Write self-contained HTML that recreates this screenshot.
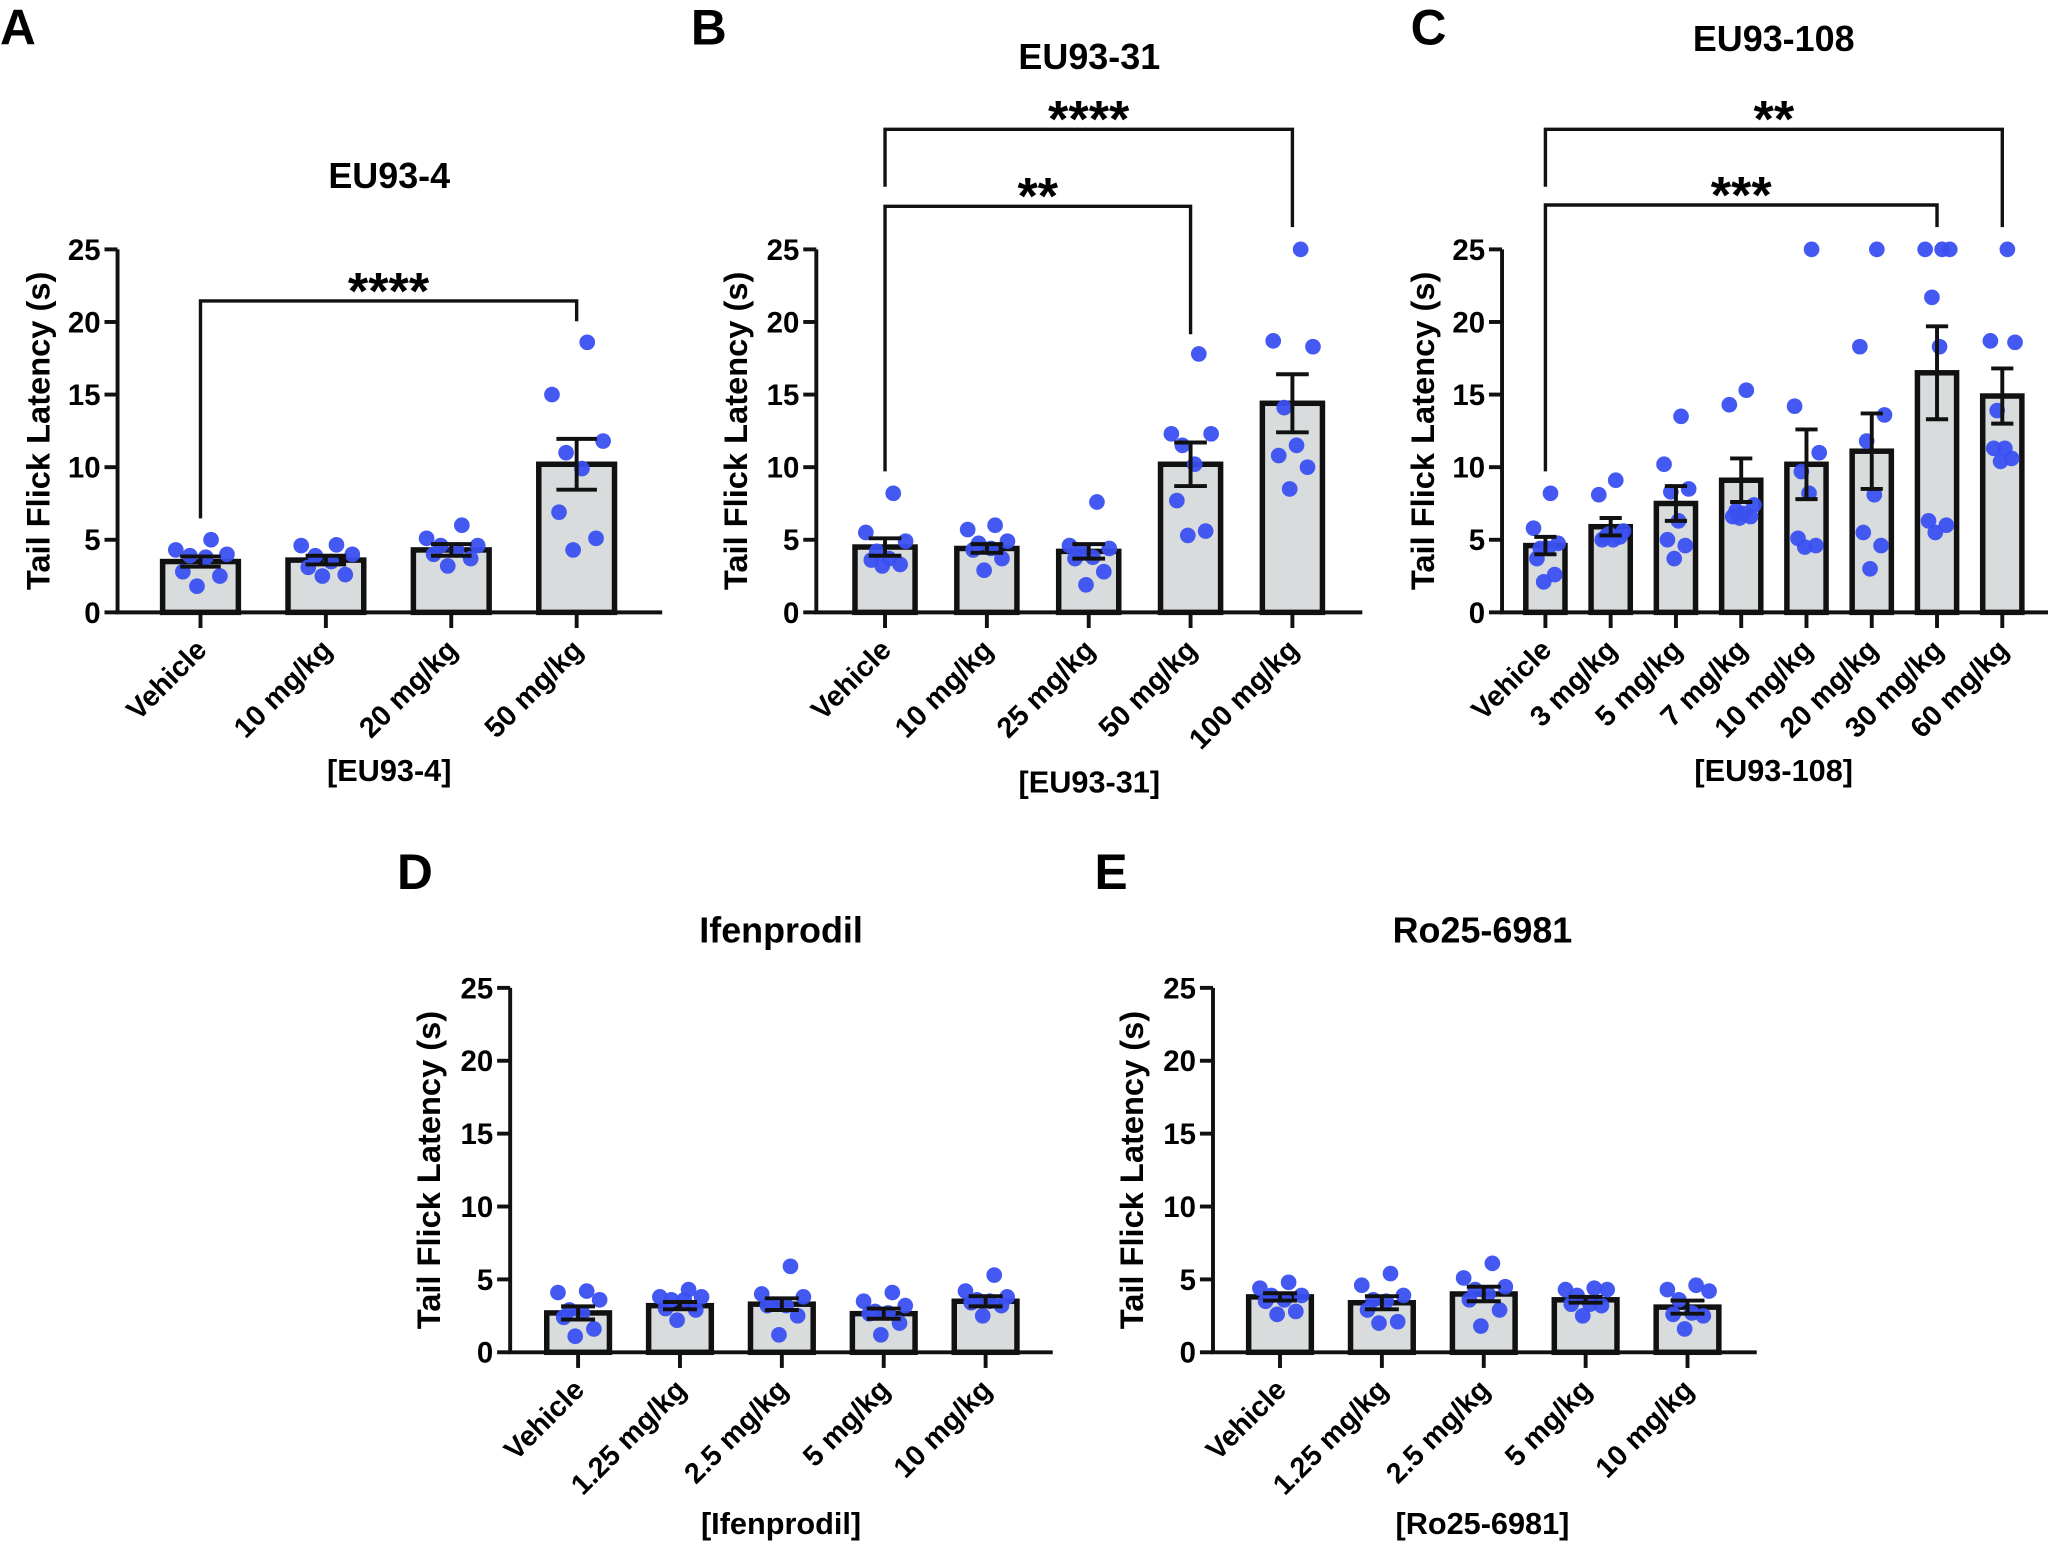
<!DOCTYPE html>
<html><head><meta charset="utf-8"><style>
html,body{margin:0;padding:0;background:#fff;}
svg{display:block;font-family:"Liberation Sans",Arial,sans-serif;font-weight:bold;}
</style></head><body>
<svg id="fig" xmlns="http://www.w3.org/2000/svg" width="2048" height="1542" viewBox="0 0 1568 1181" preserveAspectRatio="none"></svg>
<script>
// ---- data ----
const catsA = ["Vehicle","10 mg/kg","20 mg/kg","50 mg/kg"];
const meanA = [3.5,3.6,4.3,10.2];
const semA = [0.35,0.3,0.4,1.75];
const ptsA = [[5.0,4.3,4.0,3.9,3.8,2.8,2.5,1.8],[4.65,4.6,4.0,3.9,3.5,3.1,2.6,2.5],[6.0,5.1,4.6,4.6,4.3,4.0,3.7,3.2],[18.6,15.0,11.8,11.0,9.9,6.9,5.1,4.3]];
const catsB = ["Vehicle","10 mg/kg","25 mg/kg","50 mg/kg","100 mg/kg"];
const meanB = [4.5,4.4,4.2,10.2,14.4];
const semB = [0.6,0.3,0.5,1.5,2.0];
const ptsB = [[8.2,5.5,4.9,4.2,3.7,3.6,3.3,3.2],[6.0,5.7,4.9,4.75,4.4,4.3,3.7,2.9],[7.6,4.6,4.4,4.2,3.8,3.7,2.8,1.9],[17.8,12.3,12.3,11.5,10.2,7.7,5.6,5.3],[25,18.7,18.3,14.1,11.5,10.8,10.0,8.5]];
const catsC = ["Vehicle","3 mg/kg","5 mg/kg","7 mg/kg","10 mg/kg","20 mg/kg","30 mg/kg","60 mg/kg"];
const meanC = [4.6,5.9,7.5,9.1,10.2,11.1,16.5,14.9];
const semC = [0.6,0.6,1.2,1.5,2.4,2.6,3.2,1.9];
const ptsC = [[8.2,5.8,4.75,4.4,4.4,3.7,2.6,2.1],[9.1,8.1,5.6,5.2,5.0,5.0,5.2,5.4],[13.5,10.2,8.5,8.3,6.3,5.0,4.6,3.7],[15.3,14.3,7.4,7.0,6.8,6.6,6.6,6.5],[25,14.2,11,9.7,8.2,5.1,4.6,4.5],[25,18.3,13.6,11.8,8.1,5.5,4.6,3.0],[25,25,25,21.7,18.3,6.3,6.0,5.5],[25,18.7,18.6,13.9,11.3,11.3,10.6,10.4]];
const catsD = ["Vehicle","1.25 mg/kg","2.5 mg/kg","5 mg/kg","10 mg/kg"];
const meanD = [2.7,3.2,3.3,2.65,3.5];
const semD = [0.45,0.25,0.4,0.35,0.35];
const ptsD = [[4.2,4.1,3.6,2.9,2.7,2.4,1.6,1.1],[4.3,3.8,3.8,3.6,3.6,3.0,2.9,2.2],[5.9,4.0,3.8,3.3,3.2,3.2,2.5,1.2],[4.1,3.5,3.2,2.8,2.7,2.65,2.0,1.2],[5.3,4.2,3.8,3.6,3.5,3.4,3.2,2.5]];
const catsE = ["Vehicle","1.25 mg/kg","2.5 mg/kg","5 mg/kg","10 mg/kg"];
const meanE = [3.8,3.4,4.0,3.6,3.1];
const semE = [0.25,0.45,0.5,0.2,0.45];
const ptsE = [[4.8,4.4,3.9,3.9,3.6,3.5,2.8,2.6],[5.4,4.6,3.9,3.6,3.5,2.9,2.1,2.0],[6.1,5.1,4.5,4.3,4.0,3.6,2.9,1.8],[4.4,4.3,4.3,3.9,3.3,3.3,3.2,2.5],[4.6,4.3,4.2,3.6,2.7,2.6,2.5,1.6]];
const yTicks = [0,5,10,15,20,25];
const statsA = ["****"];
const statsB = ["****","**"];
const statsC = ["**","***"];

// ---- layout ----
const NS="http://www.w3.org/2000/svg";
const svg=document.getElementById('fig');
function mk(tag,attrs,parent){const e=document.createElementNS(NS,tag);for(const k in attrs)e.setAttribute(k,attrs[k]);(parent||svg).appendChild(e);return e;}
const jit=[0.3,-0.7,0.75,-0.3,0.15,-0.5,0.55,-0.1];

function panel(o){
  const g=mk('g',{});
  
  
  const ys=v=>o.y0-v*(o.y0-o.y25)/25;
  const step=(o.lastX-o.firstX)/(o.cats.length-1);
  const xs=i=>o.firstX+i*step;
  const L=mk('text',{x:o.letterX,y:o.letterY,'font-size':38,'fill':'#000'},g);L.textContent=o.letter;
  
  
  const T=mk('text',{x:o.titleX,y:o.titleY,'font-size':27.5,'text-anchor':'middle'},g);T.textContent=o.title;
  
  
  o.mean.forEach((m,i)=>{
    const x=xs(i),hw=o.bw/2-2;
    const r=mk('rect',{x:x-hw,y:ys(m),width:2*hw,height:ys(0)-ys(m),fill:'#d9dcdc',stroke:'#111','stroke-width':4.2},g);
    
    
  });
  o.pts.forEach((arr,i)=>{arr.forEach((v,j)=>{
    const c=mk('circle',{cx:xs(i)+jit[j]*(o.bw/2-4),cy:ys(v),r:6,fill:'#3a50f0','fill-opacity':0.95},g);
    
    
  });});
  o.mean.forEach((m,i)=>{
    const x=xs(i),cw=o.bw*0.25,s=o.sem[i];
    const p=mk('path',{d:`M${x},${ys(m-s)}V${ys(m+s)}M${x-cw},${ys(m+s)}H${x+cw}M${x-cw},${ys(m-s)}H${x+cw}`,stroke:'#111','stroke-width':3,fill:'none'},g);
    
    
  });
  const ax=mk('path',{d:`M${o.ax},${o.y25}V${o.y0}H${o.axEnd}`,stroke:'#111','stroke-width':3,fill:'none'},g);
  
  
  yTicks.forEach(t=>{
    mk('line',{x1:o.ax-10,x2:o.ax,y1:ys(t),y2:ys(t),stroke:'#111','stroke-width':3},g);
    const tl=mk('text',{x:o.ax-13,y:ys(t)+8,'font-size':22.5,'text-anchor':'end'},g);tl.textContent=t;
    
    
  });
  o.cats.forEach((c,i)=>{
    const x=xs(i);
    mk('line',{x1:x,x2:x,y1:o.y0,y2:o.y0+12,stroke:'#111','stroke-width':3},g);
    const t=mk('text',{x:x+6,y:o.y0+30,'font-size':22,'text-anchor':'end',transform:`rotate(-45 ${x+6} ${o.y0+30})`},g);t.textContent=c;
    
    
  });
  const yt=mk('text',{x:0,y:0,'font-size':25,'text-anchor':'middle',transform:`translate(${o.ytX},${(o.y0+o.y25)/2}) rotate(-90)`},g);yt.textContent='Tail Flick Latency (s)';
  
  
  const xt=mk('text',{x:o.titleX,y:o.xtY,'font-size':23.5,'text-anchor':'middle'},g);xt.textContent=o.xTitle;
  
  
  (o.br||[]).forEach((b,k)=>{
    const x1=xs(b.a),x2=xs(b.b);
    const p=mk('path',{d:`M${x1},${b.l}V${b.y}H${x2}V${b.r}`,stroke:'#111','stroke-width':2.6,fill:'none'},g);
    
    
    const s=mk('text',{x:(x1+x2)/2,y:b.y+6,'font-size':40,'text-anchor':'middle'},g);s.textContent=o.stats[k];
    
    
  });
}

panel({id:'a',letter:'A',letterX:0,letterY:34,title:'EU93-4',titleX:298,titleY:144,xTitle:'[EU93-4]',xtY:598,
  cats:catsA,mean:meanA,sem:semA,pts:ptsA,ax:90,axEnd:507,firstX:153.5,lastX:441.5,bw:62,y0:469,y25:191,ytX:38,
  stats:statsA,br:[{a:0,b:3,y:230.5,l:397,r:246}]});
panel({id:'b',letter:'B',letterX:529,letterY:34,title:'EU93-31',titleX:834,titleY:53,xTitle:'[EU93-31]',xtY:607,
  cats:catsB,mean:meanB,sem:semB,pts:ptsB,ax:625,axEnd:1043,firstX:677.6,lastX:989.5,bw:50,y0:469,y25:191,ytX:572,
  stats:statsB,br:[{a:0,b:4,y:99,l:143,r:174},{a:0,b:3,y:158,l:361,r:256}]});
panel({id:'c',letter:'C',letterX:1080,letterY:34,title:'EU93-108',titleX:1358,titleY:39,xTitle:'[EU93-108]',xtY:598,
  cats:catsC,mean:meanC,sem:semC,pts:ptsC,ax:1150,axEnd:1568,firstX:1183.2,lastX:1533,bw:34,y0:469,y25:191,ytX:1098,
  stats:statsC,br:[{a:0,b:7,y:99,l:143,r:174},{a:0,b:6,y:157,l:361,r:174}]});
panel({id:'d',letter:'D',letterX:304,letterY:681,title:'Ifenprodil',titleX:598,titleY:722,xTitle:'[Ifenprodil]',xtY:1175,
  cats:catsD,mean:meanD,sem:semD,pts:ptsD,ax:390.6,axEnd:806,firstX:442.6,lastX:754.6,bw:52,y0:1035.7,y25:756.6,ytX:337});
panel({id:'e',letter:'E',letterX:838,letterY:681,title:'Ro25-6981',titleX:1135,titleY:722,xTitle:'[Ro25-6981]',xtY:1175,
  cats:catsE,mean:meanE,sem:semE,pts:ptsE,ax:928.7,axEnd:1345,firstX:980,lastX:1292,bw:52,y0:1035.7,y25:756.6,ytX:875});
</script>
</body></html>
